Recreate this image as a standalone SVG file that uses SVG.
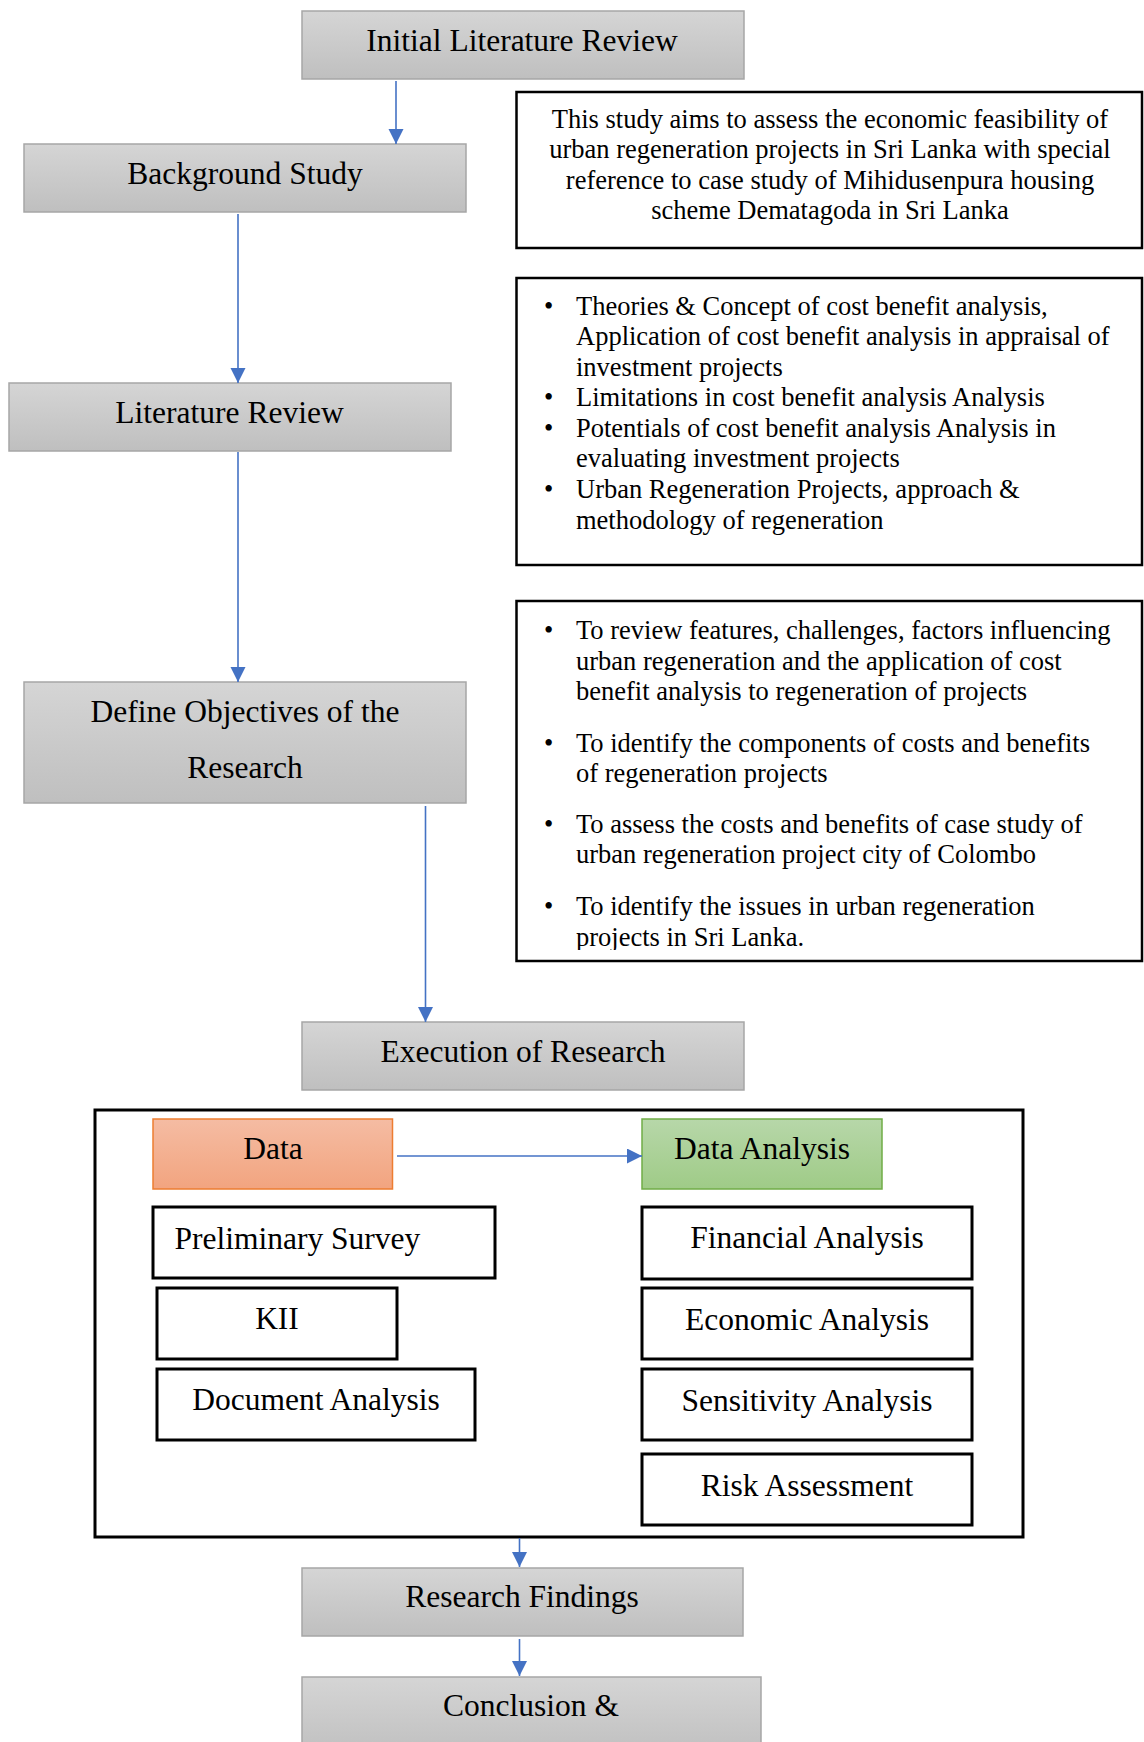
<svg xmlns="http://www.w3.org/2000/svg" width="1144" height="1742" viewBox="0 0 1144 1742">
<defs>
<linearGradient id="gGray" x1="0" y1="0" x2="0" y2="1"><stop offset="0" stop-color="#d5d5d5"/><stop offset="1" stop-color="#bfbfbf"/></linearGradient>
<linearGradient id="gOrange" x1="0" y1="0" x2="0" y2="1"><stop offset="0" stop-color="#f5bca3"/><stop offset="1" stop-color="#f2a47f"/></linearGradient>
<linearGradient id="gGreen" x1="0" y1="0" x2="0" y2="1"><stop offset="0" stop-color="#b7d7a9"/><stop offset="1" stop-color="#9fcb87"/></linearGradient>
<marker id="arr" markerUnits="userSpaceOnUse" markerWidth="16" markerHeight="16" refX="15" refY="7.5" orient="auto"><path d="M0,0 L15,7.5 L0,15 z" fill="#4472c4"/></marker>
<clipPath id="clipObj"><rect x="516" y="600" width="628" height="350"/></clipPath>
</defs>
<style>
.t{font-family:"Liberation Serif","Times New Roman",serif;fill:#000}
.big{font-size:31.5px}
.sm{font-size:26.5px}
.gray{fill:url(#gGray);stroke:#a6a6a6;stroke-width:1.5}
.wb{fill:#fff;stroke:#000;stroke-width:3}
.tb{fill:#fff;stroke:#000;stroke-width:2.5}
.c{text-anchor:middle}
.conn line{stroke:#4472c4;stroke-width:1.6;marker-end:url(#arr)}
</style>

<g id="container"><rect x="95" y="1110" width="928" height="427" fill="#fff" stroke="#000" stroke-width="3"/></g>

<g id="initial-literature-review"><rect class="gray" x="302" y="11" width="442" height="68"/><text class="t big c" x="522" y="51">Initial Literature Review</text></g>

<g id="background-study"><rect class="gray" x="24" y="144" width="442" height="68"/><text class="t big c" x="245" y="184">Background Study</text></g>

<g id="literature-review"><rect class="gray" x="9" y="383" width="442" height="68"/><text class="t big c" x="229.5" y="423">Literature Review</text></g>

<g id="define-objectives"><rect class="gray" x="24" y="682" width="442" height="121"/><text class="t big c" x="245" y="722">Define Objectives of the</text><text class="t big c" x="245" y="777.5">Research</text></g>

<g id="execution"><rect class="gray" x="302" y="1022" width="442" height="68"/><text class="t big c" x="523" y="1062">Execution of Research</text></g>

<g id="research-findings"><rect class="gray" x="302" y="1568" width="441" height="68"/><text class="t big c" x="522" y="1607">Research Findings</text></g>

<g id="conclusion"><rect class="gray" x="302" y="1677" width="459" height="80"/><text class="t big c" x="531" y="1716">Conclusion &amp;</text></g>

<g id="aim-box"><rect class="tb" x="516.5" y="92" width="625.5" height="156"/>
<text class="t sm c" x="830" y="127.5">This study aims to assess the economic feasibility of</text>
<text class="t sm c" x="830" y="158">urban regeneration projects in Sri Lanka with special</text>
<text class="t sm c" x="830" y="188.5">reference to case study of Mihidusenpura housing</text>
<text class="t sm c" x="830" y="218.5">scheme Dematagoda in Sri Lanka</text></g>

<g id="literature-topics"><rect class="tb" x="516.5" y="278" width="625.5" height="287"/>
<g class="t sm">
<text x="544" y="314.5">•</text><text x="576" y="314.5">Theories &amp; Concept of cost benefit analysis,</text>
<text x="576" y="345">Application of cost benefit analysis in appraisal of</text>
<text x="576" y="375.5">investment projects</text>
<text x="544" y="406">•</text><text x="576" y="406">Limitations in cost benefit analysis Analysis</text>
<text x="544" y="436.7">•</text><text x="576" y="436.7">Potentials of cost benefit analysis Analysis in</text>
<text x="576" y="467.3">evaluating investment projects</text>
<text x="544" y="498">•</text><text x="576" y="498">Urban Regeneration Projects, approach &amp;</text>
<text x="576" y="528.5">methodology of regeneration</text>
</g></g>

<g id="objectives-list"><rect class="tb" x="516.5" y="601" width="625.5" height="360"/>
<g class="t sm" clip-path="url(#clipObj)">
<text x="544" y="639">•</text><text x="576" y="639">To review features, challenges, factors influencing</text>
<text x="576" y="669.5">urban regeneration and the application of cost</text>
<text x="576" y="700">benefit analysis to regeneration of projects</text>
<text x="544" y="751.5">•</text><text x="576" y="751.5">To identify the components of costs and benefits</text>
<text x="576" y="782">of regeneration projects</text>
<text x="544" y="832.5">•</text><text x="576" y="832.5">To assess the costs and benefits of case study of</text>
<text x="576" y="863">urban regeneration project city of Colombo</text>
<text x="544" y="915">•</text><text x="576" y="915">To identify the issues in urban regeneration</text>
<text x="576" y="946">projects in Sri Lanka.</text>
</g></g>

<g id="data"><rect x="153" y="1119" width="239.5" height="70" fill="url(#gOrange)" stroke="#ed7d31" stroke-width="1.5"/><text class="t big c" x="273" y="1159">Data</text></g>

<g id="data-analysis"><rect x="642" y="1119" width="240" height="70" fill="url(#gGreen)" stroke="#70ad47" stroke-width="1.5"/><text class="t big c" x="762" y="1159">Data Analysis</text></g>

<g id="preliminary-survey"><rect class="wb" x="153" y="1207" width="342" height="71"/><text class="t big" x="174.5" y="1249">Preliminary Survey</text></g>
<g id="kii"><rect class="wb" x="157" y="1288" width="240" height="71"/><text class="t big c" x="277" y="1329">KII</text></g>
<g id="document-analysis"><rect class="wb" x="157" y="1369" width="318" height="71"/><text class="t big c" x="316" y="1410">Document Analysis</text></g>

<g id="financial-analysis"><rect class="wb" x="642" y="1207" width="330" height="72"/><text class="t big c" x="807" y="1248">Financial Analysis</text></g>
<g id="economic-analysis"><rect class="wb" x="642" y="1288" width="330" height="71"/><text class="t big c" x="807" y="1330">Economic Analysis</text></g>
<g id="sensitivity-analysis"><rect class="wb" x="642" y="1369" width="330" height="71"/><text class="t big c" x="807" y="1411">Sensitivity Analysis</text></g>
<g id="risk-assessment"><rect class="wb" x="642" y="1454" width="330" height="71"/><text class="t big c" x="807" y="1496">Risk Assessment</text></g>

<g id="connectors" class="conn">
<line x1="396" y1="81" x2="396" y2="144"/>
<line x1="238" y1="214" x2="238" y2="383"/>
<line x1="238" y1="452" x2="238" y2="682"/>
<line x1="425.5" y1="806" x2="425.5" y2="1022"/>
<line x1="397" y1="1156" x2="642" y2="1156"/>
<line x1="519.5" y1="1538" x2="519.5" y2="1567"/>
<line x1="519.5" y1="1639" x2="519.5" y2="1676"/>
</g>
</svg>
